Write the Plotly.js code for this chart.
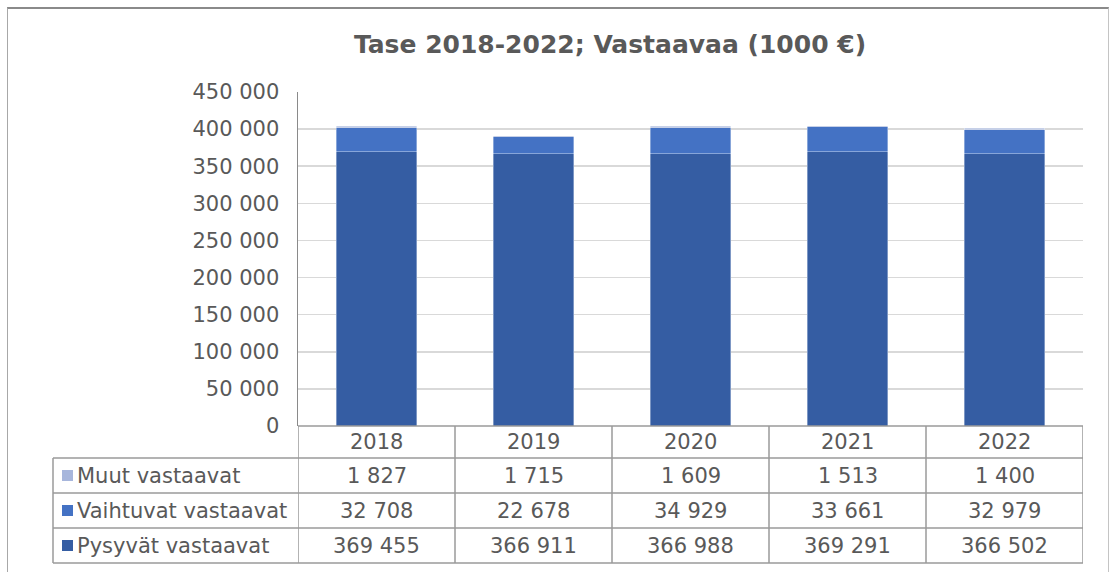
<!DOCTYPE html>
<html>
<head>
<meta charset="utf-8">
<script src="https://cdn.plot.ly/plotly-3.0.1.min.js"></script>
<style>
  html, body { margin: 0; padding: 0; background: #fff; }
  #wrap { position: relative; width: 1112px; height: 572px; overflow: hidden; }
  #chart { width: 1112px; height: 572px; }
  #frame { position: absolute; left: 7px; top: 7px; width: 1102px; height: 600px;
           border-top: 2px solid #8a8a8a; border-left: 1px solid #a8a8a8; border-right: 1px solid #c4c4c4;
           pointer-events: none; box-sizing: border-box; }
</style>
</head>
<body>
<div id="wrap"><div id="chart"></div><div id="frame"></div></div>
<script>
// ---- data ----
const years = ["2018", "2019", "2020", "2021", "2022"];
const seriesNames = ["Pysyvät vastaavat", "Vaihtuvat vastaavat", "Muut vastaavat"];
const pysyvat = [369455, 366911, 366988, 369291, 366502];
const vaihtuvat = [32708, 22678, 34929, 33661, 32979];
const muut = [1827, 1715, 1609, 1513, 1400];
const seriesColors = ["#355DA3", "#4472C4", "#A7B6DC"];
const yTicks = [0, 50000, 100000, 150000, 200000, 250000, 300000, 350000, 400000, 450000];

// ---- layout helpers (pixels -> paper) ----
const L = 298, R = 1083, T = 92, B = 426;
const PW = R - L, PH = B - T;
const px = v => (v - L) / PW;
const py = v => (B - v) / PH;

const fontFam = "DejaVu Sans, Verdana, sans-serif";
const txtColor = "#595959";
const lineColor = "#9a9a9a";
const cellSize = 21;

const values = [pysyvat, vaihtuvat, muut];
const traces = values.map((v, i) => ({
  type: "bar",
  x: years,
  y: v,
  name: seriesNames[i],
  marker: { color: seriesColors[i], line: { color: "rgba(255,255,255,0.45)", width: 0.8 } },
  hoverinfo: "x+y+name"
}));

// table rows (top to bottom): Muut, Vaihtuvat, Pysyvät
const rowOrder = [2, 1, 0];
const rowLines = [458, 493, 528, 563];
const shapes = [];
const annotations = [];

// horizontal table lines
shapes.push({ type: "line", xref: "paper", yref: "paper", x0: 0, x1: 1, y0: py(B), y1: py(B), line: { color: lineColor, width: 1.5 } });
rowLines.forEach(yv => {
  shapes.push({ type: "line", xref: "paper", yref: "paper", x0: px(53), x1: 1, y0: py(yv), y1: py(yv), line: { color: lineColor, width: 1.5 } });
});
// vertical table lines
shapes.push({ type: "line", xref: "paper", yref: "paper", x0: px(53), x1: px(53), y0: py(458), y1: py(563), line: { color: lineColor, width: 1.5 } });
for (let k = 0; k <= years.length; k++) {
  shapes.push({ type: "line", xref: "x", yref: "paper", x0: k - 0.5, x1: k - 0.5, y0: py(B), y1: py(563), line: { color: lineColor, width: 1.5 } });
}

// header (years)
years.forEach((yr, k) => {
  annotations.push({ xref: "x", yref: "paper", x: k, y: py(442), text: yr, showarrow: false,
    xanchor: "center", yanchor: "middle", font: { family: fontFam, size: cellSize, color: txtColor } });
});

const fmt = n => String(n).replace(/\B(?=(\d{3})+(?!\d))/g, " ");

rowOrder.forEach((si, r) => {
  const yTop = rowLines[r], yBot = rowLines[r + 1];
  const yc = (yTop + yBot) / 2;
  // legend key
  shapes.push({ type: "rect", xref: "paper", yref: "paper", x0: px(62), x1: px(73), y0: py(yc - 5.5), y1: py(yc + 5.5),
    fillcolor: seriesColors[si], line: { width: 0 } });
  annotations.push({ xref: "paper", yref: "paper", x: px(75), y: py(yc), text: seriesNames[si], showarrow: false,
    xanchor: "left", yanchor: "middle", font: { family: fontFam, size: cellSize, color: txtColor } });
  values[si].forEach((v, k) => {
    annotations.push({ xref: "x", yref: "paper", x: k, y: py(yc), text: fmt(v), showarrow: false,
      xanchor: "center", yanchor: "middle", font: { family: fontFam, size: cellSize, color: txtColor } });
  });
});

const layout = {
  width: 1112, height: 572,
  margin: { l: L, r: 1112 - R, t: T, b: 572 - B, pad: 0 },
  paper_bgcolor: "#fff", plot_bgcolor: "#fff",
  barmode: "stack",
  bargap: 0.49,
  separators: ", ",
  showlegend: false,
  title: {
    text: "<b>Tase 2018-2022; Vastaavaa (1000 €)</b>",
    font: { family: fontFam, size: 25, color: txtColor },
    xref: "container", x: 610 / 1112, xanchor: "center",
    yref: "container", y: 1 - 44 / 572, yanchor: "middle"
  },
  xaxis: { type: "category", showticklabels: false, ticks: "", showgrid: false, zeroline: false,
    showline: false, range: [-0.5, 4.5], fixedrange: true },
  yaxis: { range: [0, 450000], tickvals: yTicks, tickformat: ",.0f",
    showgrid: true, gridcolor: "#d9d9d9", gridwidth: 1.5, zeroline: false,
    showline: true, linecolor: "#8a8a8a", linewidth: 1.5,
    ticks: "outside", ticklen: 13, tickcolor: "rgba(0,0,0,0)",
    tickfont: { family: fontFam, size: 21, color: txtColor }, fixedrange: true },
  shapes: shapes,
  annotations: annotations
};

Plotly.newPlot("chart", traces, layout, { displayModeBar: false, staticPlot: true });
</script>
</body>
</html>
